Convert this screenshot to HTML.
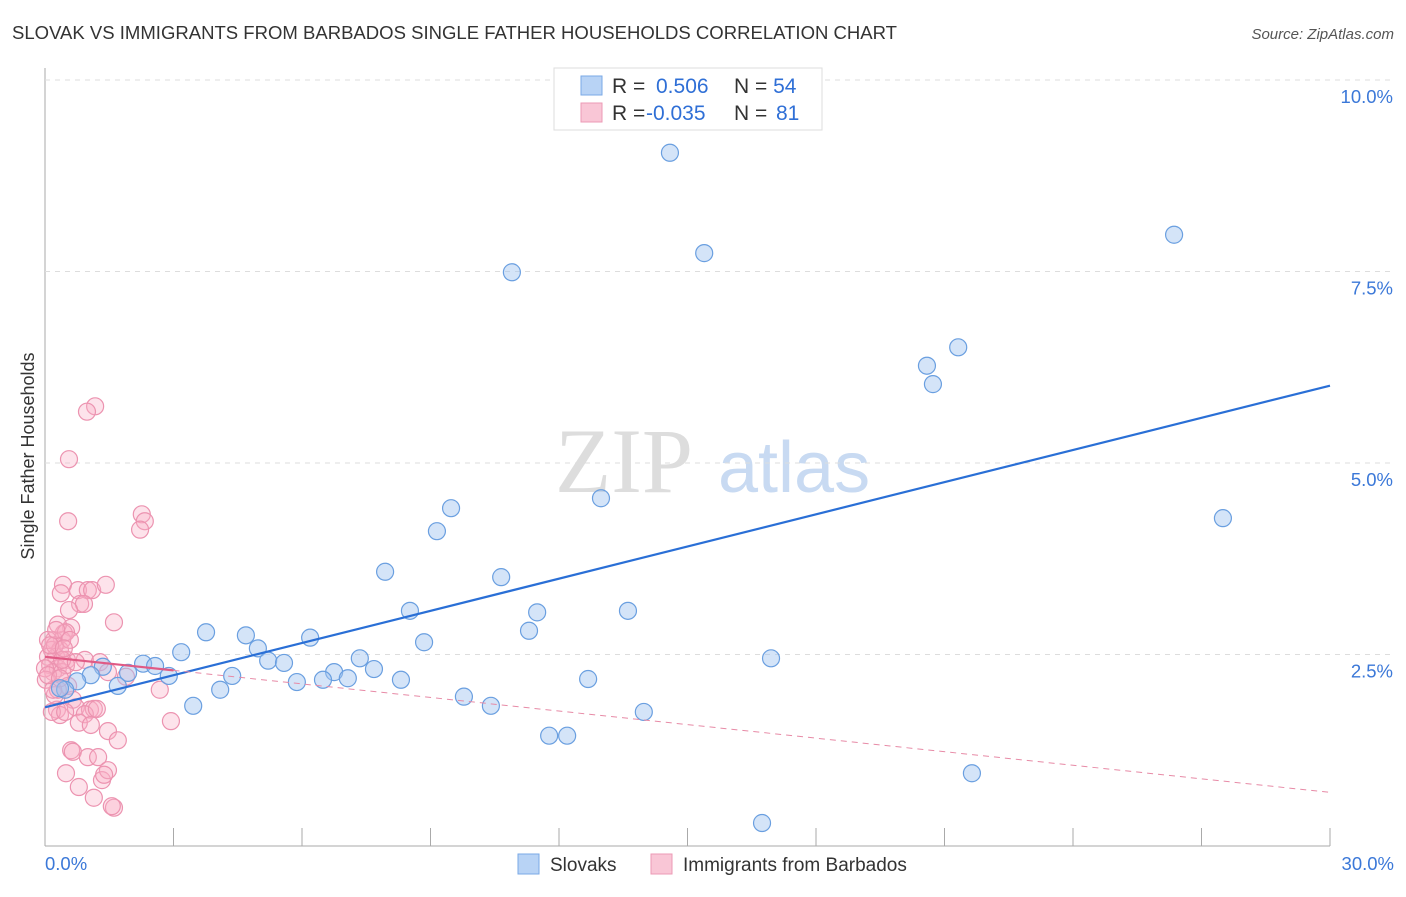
<!DOCTYPE html>
<html><head><meta charset="utf-8"><style>
body{margin:0;background:#fff;font-family:"Liberation Sans",sans-serif}
</style></head><body>
<svg id="c" width="1406" height="892" xmlns="http://www.w3.org/2000/svg">
<text x="12" y="39" font-size="18" fill="#333" textLength="885" lengthAdjust="spacingAndGlyphs">SLOVAK VS IMMIGRANTS FROM BARBADOS SINGLE FATHER HOUSEHOLDS CORRELATION CHART</text>
<text x="1394" y="39" font-size="15" fill="#555" font-style="italic" text-anchor="end">Source: ZipAtlas.com</text>
<text x="34" y="456" font-size="18" fill="#333" text-anchor="middle" transform="rotate(-90 34 456)">Single Father Households</text>
<text x="555" y="492" font-size="92" fill="#ddd" font-family="Liberation Serif,serif">ZIP</text>
<text x="718" y="492" font-size="72" fill="#c8daf2">atlas</text>
<g id="grid"></g><g id="pts"></g><g id="lines"></g>
<g>
<rect x="554" y="68" width="268" height="62" fill="#fff" stroke="#ddd"/>
<rect x="581" y="76" width="21" height="19" fill="#b8d3f5" stroke="#7aa8e6"/>
<rect x="581" y="103" width="21" height="19" fill="#f9c6d6" stroke="#ec9ab5"/>
<text x="612" y="93" font-size="21" fill="#333">R = <tspan x="656" fill="#2f6fd6">0.506</tspan><tspan x="734" fill="#333">N = </tspan><tspan fill="#2f6fd6">54</tspan></text>
<text x="612" y="120" font-size="21" fill="#333">R = <tspan x="646" fill="#2f6fd6">-0.035</tspan><tspan x="734" fill="#333">N = </tspan><tspan x="776" fill="#2f6fd6">81</tspan></text>
</g>
<g>
<rect x="518" y="854" width="21" height="20" fill="#b8d3f5" stroke="#7aa8e6"/>
<text x="550" y="871" font-size="19" fill="#333">Slovaks</text>
<rect x="651" y="854" width="21" height="20" fill="#f9c6d6" stroke="#ec9ab5"/>
<text x="683" y="871" font-size="19" fill="#333">Immigrants from Barbados</text>
</g>
</svg>
<script>
const xTicks=[0,3,6,9,12,15,18,21,24,27,30];
const yTicks=[2.5,5,7.5,10];
const yTickLabels=["2.5%","5.0%","7.5%","10.0%"];
const xEndLabels=["0.0%","30.0%"];
const blueX=[14.59,10.90,15.39,26.36,20.59,21.32,20.73,12.98,9.48,9.15,27.50,7.94,10.65,8.52,11.49,13.61,11.30,3.76,4.69,6.19,8.85,3.18,4.97,2.29,2.57,1.35,2.89,4.37,5.21,5.58,7.35,7.68,6.75,7.07,6.49,5.88,8.31,12.68,9.78,10.41,13.98,3.46,4.09,1.70,1.07,0.75,0.47,11.77,12.19,16.95,21.64,16.74,1.94,0.35];
const blueY=[9.05,7.49,7.74,7.98,6.27,6.51,6.03,4.54,4.41,4.11,4.28,3.58,3.51,3.07,3.05,3.07,2.81,2.79,2.75,2.72,2.66,2.53,2.58,2.38,2.35,2.34,2.22,2.22,2.42,2.39,2.45,2.31,2.27,2.19,2.17,2.14,2.17,2.18,1.95,1.83,1.75,1.83,2.04,2.09,2.23,2.15,2.04,1.44,1.44,2.45,0.95,0.30,2.26,2.06];
const pinkX=[1.17,0.98,0.56,0.54,2.26,2.33,2.22,0.42,0.37,0.77,1.00,1.10,1.42,0.82,0.91,0.56,0.61,0.44,0.40,0.21,0.07,1.61,0.16,0.35,0.26,0.07,0.51,0.12,0.30,0.19,0.0,0.40,0.23,0.49,0.93,1.28,1.47,1.89,2.68,2.94,0.65,0.54,0.28,0.35,0.72,1.05,1.14,0.93,0.79,1.07,1.47,1.70,0.61,0.65,1.00,1.24,0.49,0.79,1.33,1.47,1.38,1.14,1.61,1.56,0.23,0.02,0.16,0.47,1.21,0.30,0.12,0.40,0.30,0.49,0.72,0.19,0.07,0.35,0.58,0.26,0.44];
const pinkY=[5.74,5.67,5.05,4.24,4.33,4.24,4.13,3.41,3.30,3.34,3.34,3.34,3.41,3.16,3.16,3.08,2.85,2.78,2.69,2.69,2.69,2.92,2.56,2.56,2.47,2.47,2.43,2.36,2.32,2.27,2.32,2.27,2.62,2.36,2.43,2.40,2.27,2.21,2.04,1.63,1.91,2.09,1.78,1.71,1.81,1.78,1.79,1.72,1.61,1.58,1.50,1.38,1.25,1.23,1.16,1.16,0.95,0.77,0.86,0.99,0.93,0.63,0.50,0.52,1.97,2.17,1.75,1.75,1.79,2.04,2.62,2.43,2.89,2.79,2.40,2.04,2.23,2.19,2.69,2.82,2.58];
const blueTrend=[1.81,6.01];
const pinkTrend=[2.47,0.70];
const pinkSolidEnd=3;
const NS="http://www.w3.org/2000/svg";
const X0=45,X1=1330,Y0=846,PXY=76.6;
const sx=v=>X0+v/30*(X1-X0), sy=v=>Y0-v*PXY;
function mk(p,t,a){const e=document.createElementNS(NS,t);for(const k in a)e.setAttribute(k,a[k]);p.appendChild(e);return e;}
const g=document.getElementById('grid'),P=document.getElementById('pts'),L=document.getElementById('lines');
let ax=mk(g,'line',{x1:X0,y1:68,x2:X0,y2:Y0,stroke:'#aaa'});

let bx=mk(g,'line',{x1:X0,y1:Y0,x2:X1,y2:Y0,stroke:'#aaa'});

let tg=mk(g,'line',{x1:X0,y1:80,x2:1395,y2:80,stroke:'#ddd','stroke-dasharray':'5,5'});

yTicks.forEach((v,i)=>{
 const ln=mk(g,'line',{x1:X0,y1:sy(v),x2:1395,y2:sy(v),stroke:'#ddd','stroke-dasharray':'5,5'});
 
 const t=mk(g,'text',{x:1393,y:sy(v)+23,'font-size':18.5,fill:'#3b78d8','text-anchor':'end'});t.textContent=yTickLabels[i];
 
});
xTicks.forEach(v=>{
 const ln=mk(g,'line',{x1:sx(v),y1:Y0-18,x2:sx(v),y2:Y0,stroke:'#aaa'});
 
});
let t0=mk(g,'text',{x:45,y:870,'font-size':18.5,fill:'#3b78d8'});t0.textContent=xEndLabels[0];

let t1=mk(g,'text',{x:1394,y:870,'font-size':18.5,fill:'#3b78d8','text-anchor':'end'});t1.textContent=xEndLabels[1];

pinkX.forEach((v,i)=>{
 const c=mk(P,'circle',{cx:sx(v),cy:sy(pinkY[i]),r:8.5,fill:'rgba(248,175,198,0.35)',stroke:'#ec93b0','stroke-width':1.2});
 
});
blueX.forEach((v,i)=>{
 const c=mk(P,'circle',{cx:sx(v),cy:sy(blueY[i]),r:8.5,fill:'rgba(160,196,240,0.45)',stroke:'#6a9fe0','stroke-width':1.2});
 
});
let bl=mk(L,'line',{x1:sx(0),y1:sy(blueTrend[0]),x2:sx(30),y2:sy(blueTrend[1]),stroke:'#2a6fd6','stroke-width':2.2});

const pm=pinkTrend[0]+(pinkTrend[1]-pinkTrend[0])*pinkSolidEnd/30;
let ps=mk(L,'line',{x1:sx(0),y1:sy(pinkTrend[0]),x2:sx(pinkSolidEnd),y2:sy(pm),stroke:'#e05a85','stroke-width':2.2});

let pd=mk(L,'line',{x1:sx(pinkSolidEnd),y1:sy(pm),x2:sx(30),y2:sy(pinkTrend[1]),stroke:'#e78aa6','stroke-width':1,'stroke-dasharray':'6,5'});

</script>
</body></html>
